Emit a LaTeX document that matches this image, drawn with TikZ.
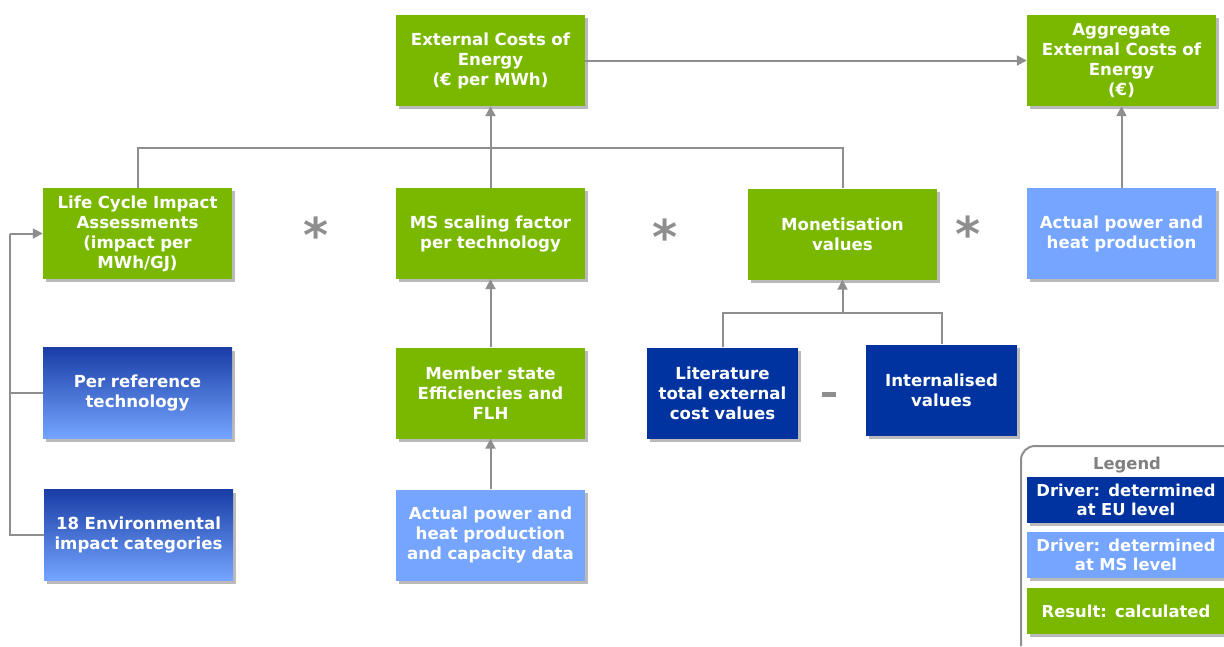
\documentclass[tikz,border=0pt]{standalone}
\usepackage{fontspec}
\setmainfont{DejaVu Sans}
\usetikzlibrary{shadows,arrows.meta}
\definecolor{grn}{HTML}{7AB800}
\definecolor{dblue}{HTML}{0033A0}
\definecolor{lblue}{HTML}{75A5FF}
\definecolor{gtop}{HTML}{1A3DA6}
\definecolor{lnc}{HTML}{8E8E8E}
\tikzset{
  base/.style={minimum width=189pt, minimum height=91pt, inner sep=2pt, align=center, text width=185pt,
    font=\fontsize{16.6}{20}\selectfont\bfseries, text=white,
    drop shadow={shadow xshift=3pt, shadow yshift=-3pt, fill=black!45, opacity=0.6}},
  res/.style={base, fill=grn},
  eu/.style={base, fill=dblue},
  ms/.style={base, fill=lblue},
  grad/.style={base, top color=gtop, bottom color=lblue},
  conn/.style={draw=lnc, line width=2pt},
  arr/.style={conn, -{Triangle[length=10pt,width=10pt]}},
  op/.style={text=lnc, font=\fontsize{48}{48}\selectfont\bfseries},
  leg/.style={base, minimum width=196pt, minimum height=46pt, text width=194pt, font=\fontsize{16.4}{19}\selectfont\bfseries}
}
\begin{document}
\begin{tikzpicture}[x=1pt,y=-1pt]
\useasboundingbox (0,0) rectangle (1224,646);
% row 1
\node[res] (ext) at (490.5,60.5) {External Costs of\\Energy\\(€ per MWh)};
\node[res] (agg) at (1121.5,60.5) {Aggregate\\External Costs of\\Energy\\(€)};
% row 2
\node[res] (lcia) at (137.5,233.5) {Life Cycle Impact\\Assessments\\(impact per\\MWh/GJ)};
\node[res] (msf) at (490.5,233.5) {MS scaling factor\\per technology};
\node[res] (mon) at (842.5,234) {Monetisation\\values};
\node[ms] (apt) at (1121.5,233.5) {Actual power and\\heat production};
% row 3
\node[grad] (ref) at (137.5,393) {Per reference\\technology};
\node[res] (mse) at (490.5,393) {Member state\\Efficiencies and\\FLH};
\node[eu, minimum width=149pt, text width=147pt] (lit) at (722.5,393) {Literature\\total external\\cost values};
\node[eu, minimum width=149pt, text width=147pt] (int) at (941.5,390) {Internalised\\values};
% row 4
\node[grad] (env) at (138.5,535) {18 Environmental\\impact categories};
\node[ms] (apc) at (490.5,535) {Actual power and\\heat production\\and capacity data};
% operators
\node[op] (s1) at (316,235) {*};
\node[op] (s2) at (665,237) {*};
\node[op] (s3) at (968,234) {*};
\node[fill=lnc, minimum width=14pt, minimum height=5pt, inner sep=0pt] (mn) at (829,394) {};
% connectors
\coordinate (jl) at (lcia.north |- 0,148);
\coordinate (jr) at (mon.north |- 0,148);
\draw[conn] (lcia.north) -- (jl) -- (jr) -- (mon.north);
\draw[arr] (msf.north) -- (ext.south);
\draw[arr] (ext.east) -- (agg.west);
\draw[arr] (apt.north) -- (agg.south);
\draw[arr] (mse.north) -- (msf.south);
\draw[arr] (apc.north) -- (mse.south);
\coordinate (b1) at (10,535);
\coordinate (b2) at (10,233.5);
\coordinate (b3) at (10,393);
\draw[conn] (env.west) -- (b1) -- (b2);
\draw[arr] (b2) -- (lcia.west);
\draw[conn] (ref.west) -- (b3);
\coordinate (m1) at (lit.north |- 0,313);
\coordinate (m2) at (int.north |- 0,313);
\draw[conn] (lit.north) -- (m1) -- (m2) -- (int.north);
\draw[arr] (mon.south |- 0,313) -- (mon.south);
% legend
\draw[lnc, line width=2pt, rounded corners=14pt] (1021,646) -- (1021,446) -- (1240,446);
\node[text=black!50, font=\fontsize{16.4}{18}\selectfont\bfseries] (lt) at (1127,465) {Legend};
\node[leg, fill=dblue] (l1) at (1126,500) {Driver: determined\\at EU level};
\node[leg, fill=lblue] (l2) at (1126,555) {Driver: determined\\at MS level};
\node[leg, fill=grn] (l3) at (1126,611) {Result: calculated};
\end{tikzpicture}
\end{document}
